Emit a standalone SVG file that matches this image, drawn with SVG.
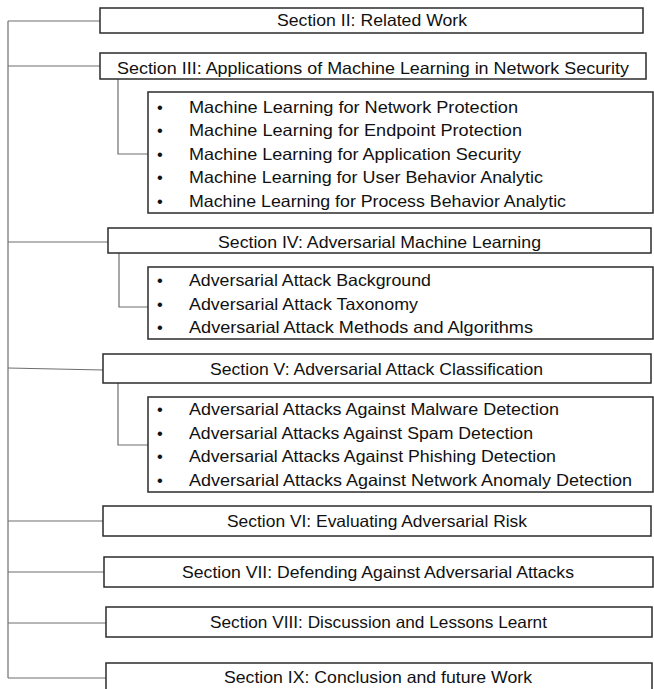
<svg xmlns="http://www.w3.org/2000/svg" width="654" height="689" viewBox="0 0 654 689">
<style>
.box{fill:#fff;stroke:#2b2b2b;stroke-width:1.5}
.ln{fill:none;stroke:#6e6e6e;stroke-width:1.2}
.t{font-family:"Liberation Sans",Arial,sans-serif;font-size:16.5px;fill:#111}
.c{text-anchor:middle}
</style>
<rect width="654" height="689" fill="#fff"/>
<g id="connectors">
<path class="ln" d="M8,21 V678"/>
<path class="ln" d="M8,21 H100"/>
<path class="ln" d="M8,66 H100"/>
<path class="ln" d="M8,242 H108"/>
<path class="ln" d="M8,368 L103,370"/>
<path class="ln" d="M8,521 H103"/>
<path class="ln" d="M8,572 H104"/>
<path class="ln" d="M8,623 H106"/>
<path class="ln" d="M8,678 H106"/>
<path class="ln" d="M118,79 V154 H148"/>
<path class="ln" d="M119,253 V307 H148"/>
<path class="ln" d="M118,383 V445 H148"/>
</g>
<g id="s2">
<rect class="box" x="100" y="8" width="543" height="25"/>
<text class="t c" x="372" y="26" textLength="190" lengthAdjust="spacingAndGlyphs">Section II: Related Work</text>
</g>
<g id="s3">
<rect class="box" x="100" y="53" width="546" height="26"/>
<text class="t c" x="373" y="73.5" textLength="512" lengthAdjust="spacingAndGlyphs">Section III: Applications of Machine Learning in Network Security</text>
</g>
<g id="s3-items">
<rect class="box" x="148" y="92" width="505" height="121"/>
<text class="t" x="157" y="112.5">•</text>
<text class="t" x="157" y="136">•</text>
<text class="t" x="157" y="159.5">•</text>
<text class="t" x="157" y="183">•</text>
<text class="t" x="157" y="206.5">•</text>
<text class="t" x="189" y="112.5" textLength="329" lengthAdjust="spacingAndGlyphs">Machine Learning for Network Protection</text>
<text class="t" x="189" y="136" textLength="333" lengthAdjust="spacingAndGlyphs">Machine Learning for Endpoint Protection</text>
<text class="t" x="189" y="159.5" textLength="332" lengthAdjust="spacingAndGlyphs">Machine Learning for Application Security</text>
<text class="t" x="189" y="183" textLength="354" lengthAdjust="spacingAndGlyphs">Machine Learning for User Behavior Analytic</text>
<text class="t" x="189" y="206.5" textLength="377" lengthAdjust="spacingAndGlyphs">Machine Learning for Process Behavior Analytic</text>
</g>
<g id="s4">
<rect class="box" x="108" y="228" width="543" height="25"/>
<text class="t c" x="379.5" y="247.5" textLength="323" lengthAdjust="spacingAndGlyphs">Section IV: Adversarial Machine Learning</text>
</g>
<g id="s4-items">
<rect class="box" x="148" y="267" width="505" height="72"/>
<text class="t" x="157" y="286">•</text>
<text class="t" x="157" y="309.5">•</text>
<text class="t" x="157" y="333">•</text>
<text class="t" x="189" y="286" textLength="242" lengthAdjust="spacingAndGlyphs">Adversarial Attack Background</text>
<text class="t" x="189" y="309.5" textLength="229" lengthAdjust="spacingAndGlyphs">Adversarial Attack Taxonomy</text>
<text class="t" x="189" y="333" textLength="344" lengthAdjust="spacingAndGlyphs">Adversarial Attack Methods and Algorithms</text>
</g>
<g id="s5">
<rect class="box" x="103" y="354" width="548" height="29"/>
<text class="t c" x="376.5" y="375" textLength="333" lengthAdjust="spacingAndGlyphs">Section V: Adversarial Attack Classification</text>
</g>
<g id="s5-items">
<rect class="box" x="148" y="397" width="505" height="95"/>
<text class="t" x="157" y="415">•</text>
<text class="t" x="157" y="438.5">•</text>
<text class="t" x="157" y="462">•</text>
<text class="t" x="157" y="485.5">•</text>
<text class="t" x="189" y="415" textLength="370" lengthAdjust="spacingAndGlyphs">Adversarial Attacks Against Malware Detection</text>
<text class="t" x="189" y="438.5" textLength="344" lengthAdjust="spacingAndGlyphs">Adversarial Attacks Against Spam Detection</text>
<text class="t" x="189" y="462" textLength="367" lengthAdjust="spacingAndGlyphs">Adversarial Attacks Against Phishing Detection</text>
<text class="t" x="189" y="485.5" textLength="443" lengthAdjust="spacingAndGlyphs">Adversarial Attacks Against Network Anomaly Detection</text>
</g>
<g id="s6">
<rect class="box" x="103" y="506" width="548" height="30"/>
<text class="t c" x="377" y="526.5" textLength="300" lengthAdjust="spacingAndGlyphs">Section VI: Evaluating Adversarial Risk</text>
</g>
<g id="s7">
<rect class="box" x="104" y="557" width="549" height="30"/>
<text class="t c" x="378" y="577.5" textLength="392" lengthAdjust="spacingAndGlyphs">Section VII: Defending Against Adversarial Attacks</text>
</g>
<g id="s8">
<rect class="box" x="106" y="607" width="546" height="30"/>
<text class="t c" x="378.5" y="628" textLength="337" lengthAdjust="spacingAndGlyphs">Section VIII: Discussion and Lessons Learnt</text>
</g>
<g id="s9">
<rect class="box" x="106" y="663" width="546" height="40"/>
<text class="t c" x="378" y="683" textLength="308" lengthAdjust="spacingAndGlyphs">Section IX: Conclusion and future Work</text>
</g>
</svg>
